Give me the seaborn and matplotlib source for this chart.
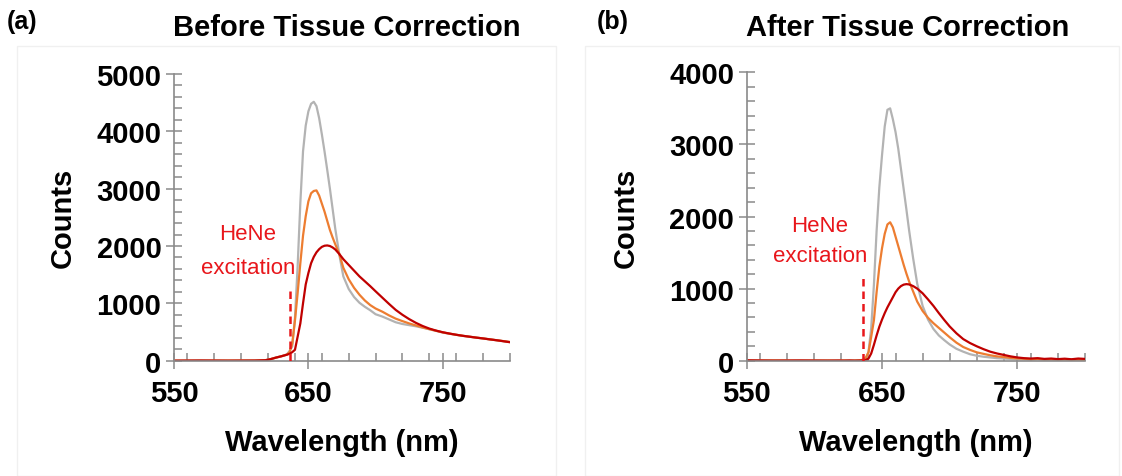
import numpy as np
import pandas as pd
import matplotlib
matplotlib.use("Agg")
import matplotlib.pyplot as plt
from matplotlib.ticker import MultipleLocator, FixedLocator
from matplotlib.patches import Rectangle
import seaborn as sns

# ---------------- data ----------------
wavelength = [550, 570, 590, 610, 618, 622, 626, 630, 634, 636, 638, 640, 642, 644, 646, 648,
              650, 652, 654, 656, 658, 660, 662, 664, 666, 668, 670, 673, 676, 680, 684, 688,
              692, 696, 700, 705, 710, 715, 720, 725, 730, 735, 740, 745, 750, 755, 760, 765,
              770, 775, 780, 785, 790, 795, 800]

# Panel (a): before tissue correction
before_gray = [0, 2, 0, 3, 8, 28, 55, 78, 110, 170, 250, 750, 1650, 2750, 3650, 4100,
               4350, 4480, 4515, 4440, 4230, 3950, 3650, 3330, 3000, 2650, 2300, 1850, 1470, 1250, 1110, 1010,
               940, 880, 810, 770, 720, 670, 640, 620, 600, 575, 548, 520, 490, 470, 452, 432,
               418, 402, 388, 372, 356, 340, 325]
before_orange = [0, 0, 2, 2, 8, 28, 55, 78, 105, 150, 300, 700, 1180, 1700, 2180, 2520,
                 2780, 2920, 2960, 2970, 2880, 2740, 2600, 2440, 2280, 2150, 2030, 1860, 1620, 1420, 1270, 1150,
                 1050, 970, 910, 855, 790, 733, 690, 650, 615, 580, 550, 522, 494, 472, 452, 434,
                 418, 403, 388, 372, 357, 342, 326]
before_red = [0, 3, 0, 2, 8, 28, 55, 78, 105, 120, 150, 190, 420, 650, 1000, 1330,
              1530, 1700, 1810, 1890, 1945, 1985, 2005, 2010, 2000, 1975, 1940, 1860, 1770, 1670, 1570, 1470,
              1385, 1300, 1210, 1100, 990, 885, 800, 725, 660, 605, 560, 525, 496, 473, 452, 434,
              418, 402, 388, 372, 357, 340, 322]

# Panel (b): after tissue correction
after_gray = [0, 5, 0, 3, 0, 2, 0, 3, 5, 10, 30, 120, 450, 1050, 1800, 2400,
              2850, 3250, 3480, 3500, 3350, 3170, 2940, 2660, 2380, 2100, 1810, 1420, 1070, 760, 570, 440,
              350, 285, 225, 165, 125, 90, 69, 55, 45, 35, 30, 25, 20, 18, 15, 20,
              12, 15, 10, 18, 12, 15, 10]
after_orange = [0, 3, 0, 2, 0, 3, 0, 2, 5, 15, 40, 116, 330, 560, 950, 1300,
                1560, 1760, 1890, 1920, 1850, 1720, 1590, 1460, 1330, 1210, 1100, 960, 820, 690, 595, 520,
                455, 390, 325, 250, 190, 150, 116, 95, 75, 60, 50, 40, 32, 28, 20, 25,
                18, 20, 15, 18, 12, 15, 10]
after_red = [5, 0, 3, 0, 2, 0, 3, 0, 2, 5, 10, 30, 100, 220, 350, 470,
             570, 660, 740, 810, 880, 950, 1000, 1035, 1055, 1062, 1058, 1035, 1000, 935, 850, 760,
             660, 565, 475, 380, 300, 245, 200, 160, 125, 100, 80, 60, 45, 35, 30, 35,
             25, 30, 22, 28, 20, 30, 25]

series_names = ["gray", "orange", "red"]
palette = {"gray": "#b3b3b3", "orange": "#ed7d31", "red": "#c00000"}

x_ticks = [550, 650, 750]
titles = ["Before Tissue Correction", "After Tissue Correction"]
panel_tags = ["(a)", "(b)"]
y_limits = [5000, 4000]
laser_nm = 636
laser_top = [1300, 1150]
label_pos = [(605, 2210, 1630), (604, 1873, 1457)]


def make_df(g, o, r):
    frames = []
    for name, vals in zip(series_names, [g, o, r]):
        frames.append(pd.DataFrame({"wl": wavelength, "counts": vals, "series": name}))
    return pd.concat(frames, ignore_index=True)


dfs = [make_df(before_gray, before_orange, before_red),
       make_df(after_gray, after_orange, after_red)]

# ---------------- style ----------------
sns.set_style("white")
plt.rcParams["font.family"] = ["Liberation Sans", "DejaVu Sans"]
plt.rcParams["text.color"] = "black"
plt.rcParams["axes.labelcolor"] = "black"
plt.rcParams["xtick.color"] = "black"
plt.rcParams["ytick.color"] = "black"

W, H = 1122, 477
fig = plt.figure(figsize=(W / 100, H / 100), dpi=100)

# faint panel borders
for x0, x1 in [(17, 556), (585, 1119)]:
    fig.patches.append(Rectangle((x0 / W, 0.0), (x1 - x0) / W, 1 - 47 / H,
                                 transform=fig.transFigure, fill=False,
                                 edgecolor="#f0f0f0", linewidth=1.0))

axes_px = [(174, 510, 75, 361.7), (746.7, 1085, 73.3, 361.7)]
ylabel_x = [-0.29, -0.315]
spine_col = "#8a8a8a"

for i, (l, r, t, b) in enumerate(axes_px):
    ax = fig.add_axes([l / W, 1 - b / H, (r - l) / W, (b - t) / H])
    sns.lineplot(data=dfs[i], x="wl", y="counts", hue="series", hue_order=series_names,
                 palette=palette, linewidth=1.6, legend=False, ax=ax)
    ax.set_xlim(550, 800)
    ax.set_ylim(0, y_limits[i])
    for s in ["top", "right"]:
        ax.spines[s].set_visible(False)
    for s in ["left", "bottom"]:
        ax.spines[s].set_color(spine_col)
        ax.spines[s].set_linewidth(1.2)
    ax.xaxis.set_major_locator(FixedLocator(x_ticks))
    ax.xaxis.set_minor_locator(MultipleLocator(20))
    ax.yaxis.set_major_locator(MultipleLocator(1000))
    ax.yaxis.set_minor_locator(MultipleLocator(200))
    ax.tick_params(which="major", direction="inout", length=12, width=1.1,
                   color=spine_col, labelcolor="black", labelsize=21)
    ax.tick_params(axis="x", which="major", pad=7)
    ax.tick_params(axis="y", which="major", pad=3)
    ax.tick_params(which="minor", direction="in", length=5.5, width=1.1, color=spine_col)
    ax.tick_params(axis="x", which="both", bottom=True)
    ax.tick_params(axis="y", which="both", left=True)
    for lab in ax.get_xticklabels() + ax.get_yticklabels():
        lab.set_fontweight("bold")
    ax.set_xlabel("Wavelength (nm)", fontsize=21, fontweight="bold", color="black")
    ax.set_ylabel("Counts", fontsize=21, fontweight="bold", color="black")
    ax.xaxis.set_label_coords(0.5, -0.235)
    ax.yaxis.set_label_coords(ylabel_x[i], 0.5)
    ax.set_facecolor("none")

    # HeNe excitation marker
    ax.plot([laser_nm, laser_nm], [0, laser_top[i]], color="#e8161b",
            linestyle=(0, (3, 2)), linewidth=1.8, zorder=5)
    tx, ty1, ty2 = label_pos[i]
    ax.text(tx, ty1, "HeNe", color="#e8161b", fontsize=16, ha="center", va="center")
    ax.text(tx, ty2, "excitation", color="#e8161b", fontsize=16, ha="center", va="center")

# titles and panel tags
fig.text(347 / W, 1 - 28 / H, titles[0], fontsize=21, fontweight="bold", ha="center", va="center")
fig.text(908 / W, 1 - 28 / H, titles[1], fontsize=21, fontweight="bold", ha="center", va="center")
fig.text(22 / W, 1 - 22 / H, panel_tags[0], fontsize=18, fontweight="bold", ha="center", va="center")
fig.text(613 / W, 1 - 22 / H, panel_tags[1], fontsize=18, fontweight="bold", ha="center", va="center")

fig.savefig("out.png", dpi=100, facecolor="white")
